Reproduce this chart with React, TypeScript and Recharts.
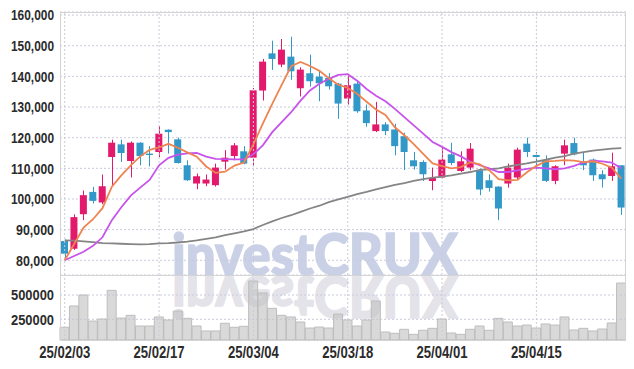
import { ComposedChart, Bar, Line, XAxis, YAxis, CartesianGrid, ReferenceLine } from "recharts"

// trading days 2025-02-03 .. 2025-04-28
const dates = [
  "25/02/03", "25/02/04", "25/02/05", "25/02/06", "25/02/07", "25/02/10", "25/02/11", "25/02/12", "25/02/13", "25/02/14",
  "25/02/17", "25/02/18", "25/02/19", "25/02/20", "25/02/21", "25/02/24", "25/02/25", "25/02/26", "25/02/27", "25/02/28",
  "25/03/04", "25/03/05", "25/03/06", "25/03/07", "25/03/10", "25/03/11", "25/03/12", "25/03/13", "25/03/14", "25/03/17",
  "25/03/18", "25/03/19", "25/03/20", "25/03/21", "25/03/24", "25/03/25", "25/03/26", "25/03/27", "25/03/28", "25/03/31",
  "25/04/01", "25/04/02", "25/04/03", "25/04/04", "25/04/07", "25/04/08", "25/04/09", "25/04/10", "25/04/11", "25/04/14",
  "25/04/15", "25/04/16", "25/04/17", "25/04/18", "25/04/21", "25/04/22", "25/04/23", "25/04/24", "25/04/25", "25/04/28",
]

const opens = [
  86270, 83770, 95030, 102310, 98860, 113690, 117820, 112390, 118370, 114800,
  115320, 122600, 119450, 111000, 105040, 105040, 104490, 112170, 114010, 115550,
  113470, 135380, 147510, 143840, 146440, 136130, 141010, 139930, 139500, 137630,
  132780, 137630, 128880, 122150, 124330, 122670, 120490, 112620, 112060, 105860,
  107000, 114570, 109140, 110240, 109370, 106110, 104040, 105040, 107000, 118050,
  114340, 112620, 105900, 114800, 118240, 112060, 112850, 108070, 107510, 110990,
]
const highs = [
  86800, 94960, 102760, 103940, 107970, 119350, 119350, 118800, 118500, 117240,
  123770, 122700, 120000, 112620, 108290, 107970, 111540, 115940, 118240, 117240,
  136230, 145690, 151640, 152200, 152940, 142960, 147090, 141880, 141010, 137860,
  140040, 138710, 130810, 131680, 125070, 124550, 121600, 115320, 112620, 110220,
  116940, 118340, 115550, 118240, 109920, 108040, 104140, 111540, 116750, 120000,
  115320, 114240, 111000, 119350, 120000, 115320, 113170, 109370, 115100, 110990,
]
const lows = [
  80100, 83400, 93100, 98540, 98310, 104160, 112060, 107000, 110990, 110640,
  113690, 114800, 111540, 105900, 103190, 104160, 104040, 109590, 112620, 111320,
  110750, 132130, 142110, 143000, 138860, 133430, 136680, 131900, 135680, 126150,
  130810, 128110, 123550, 121820, 120820, 114240, 109440, 109590, 105860, 102860,
  106670, 111000, 108810, 109370, 101240, 102420, 93100, 103710, 106340, 113690,
  109140, 105540, 104810, 111000, 114240, 109370, 105900, 103710, 105900, 94800,
]
const closes = [
  82150, 94080, 101240, 99380, 104160, 118370, 114990, 118370, 114010, 114340,
  121300, 121820, 111740, 106110, 107410, 106340, 110240, 113470, 117500, 111540,
  135450, 144810, 145690, 148720, 141660, 142210, 138410, 137750, 136760, 131130,
  137110, 128620, 124750, 124330, 122150, 117240, 115320, 110670, 108070, 106840,
  112850, 111740, 112290, 116420, 103090, 103610, 96890, 110220, 116100, 115320,
  113690, 105900, 110670, 117500, 114570, 110990, 107740, 106440, 110670, 97210,
]

const ma5 = [
  80000, 85300, 90700, 93400, 97000, 104000, 107700, 111000, 113900, 116000,
  116800, 118000, 116700, 115200, 113800, 110600, 108500, 108900, 110900, 111900,
  117800, 124600, 131000, 137200, 143300, 144700, 143400, 141800, 139400, 137300,
  136200, 134300, 131700, 129200, 127400, 123400, 120800, 117900, 114700, 111600,
  110700, 110000, 110400, 112000, 111300, 109400, 106500, 106100, 106200, 108700,
  110800, 112300, 112400, 112700, 112500, 112000, 112300, 111500, 110200, 106600,
]
const ma20 = [
  80000, 81400, 82800, 84700, 87500, 93100, 97300, 101100, 103700, 106200,
  111000, 113400, 114500, 114900, 115000, 113800, 113100, 113000, 112900, 112900,
  114600, 117500, 121800, 125100, 128300, 132100, 135400, 137600, 139200, 140500,
  140700, 138600, 135900, 133700, 131900, 129400, 126700, 124000, 121300, 118600,
  117000, 115300, 113900, 112100, 111000, 110000, 108800, 108800, 109300, 109800,
  110200, 110000, 109700, 110000, 110800, 111900, 112500, 112300, 111900, 110000,
]
const ma60 = [
  86500, 86400, 86200, 85900, 85600, 85500, 85400, 85300, 85200, 85300,
  85500, 85600, 85800, 86100, 86500, 87000, 87500, 88200, 88800, 89400,
  90200, 91500, 92700, 93800, 94700, 95800, 96900, 97800, 99000, 99900,
  100700, 101600, 102300, 103100, 103900, 104600, 105200, 105900, 106500, 107000,
  107300, 107700, 108300, 108800, 109500, 109700, 110000, 110600, 111100, 111600,
  112200, 112800, 113500, 114000, 114800, 115300, 115800, 116100, 116400, 116600,
]

const volumes = [
  168000, 387000, 500000, 232000, 253000, 548000, 263000, 291000, 181000, 181000,
  274000, 243000, 335000, 260000, 181000, 130000, 130000, 209000, 168000, 178000,
  644000, 521000, 363000, 291000, 274000, 222000, 160000, 170000, 160000, 304000,
  243000, 181000, 243000, 438000, 119000, 106000, 147000, 95000, 137000, 157000,
  253000, 109000, 95000, 147000, 181000, 137000, 260000, 222000, 181000, 191000,
  160000, 202000, 191000, 274000, 140000, 157000, 130000, 150000, 212000, 623000,
]

const tickDates = ["25/02/03", "25/02/17", "25/03/04", "25/03/18", "25/04/01", "25/04/15"]
const priceTicks = [80000, 90000, 100000, 110000, 120000, 130000, 140000, 150000, 160000]
const volumeTicks = [250000, 500000]

const UP = "#E3196B"
const DOWN = "#3298C8"
const GRID = "#C8CBDC"
const BORDER = "#D4D4D4"
const FONT = "'Liberation Sans', Arial, sans-serif"

const rows = dates.map((date, i) => ({
  date,
  open: opens[i],
  high: highs[i],
  low: lows[i],
  close: closes[i],
  ma5: ma5[i],
  ma20: ma20[i],
  ma60: ma60[i],
  volume: volumes[i],
}))

const Candle = (props: any) => {
  const { x, y, width, height, payload } = props
  const { open, close, high, low } = payload
  const top = Math.min(y, y + height)
  const h = Math.abs(height)
  const k = h / (high - low)
  const yOf = (v: number) => top + (high - v) * k
  const color = close >= open ? UP : DOWN
  const bodyTop = yOf(Math.max(open, close))
  const bodyH = Math.max(1, yOf(Math.min(open, close)) - bodyTop)
  const cx = Math.round(x + width / 2) + 0.5
  return (
    <g>
      <line x1={cx} x2={cx} y1={top} y2={top + h} stroke={color} strokeWidth={1} />
      <rect x={x} y={bodyTop} width={width} height={bodyH} fill={color} />
    </g>
  )
}

// the original uses a condensed face; squeeze the text to its width
const YTick = (props: any) => {
  const { x, y, payload, fmt } = props
  const label = fmt ? fmt(payload.value) : String(payload.value)
  const len = label.length >= 7 || !fmt ? 43 : 38
  return (
    <text x={x} y={y} dy="0.36em" textAnchor="end" textLength={len} lengthAdjust="spacingAndGlyphs"
      fontFamily={FONT} fontWeight="bold" fontSize={15} fill="#2b2b2b">{label}</text>
  )
}

const XTick = (props: any) => {
  const { x, y, payload } = props
  return (
    <text x={x - 25.5} y={y} dy="0.72em" textLength={51} lengthAdjust="spacingAndGlyphs"
      fontFamily={FONT} fontWeight="bold" fontSize={16} fill="#2b2b2b">{payload.value}</text>
  )
}

const fmtPrice = (v: number) => v.toLocaleString("en-US")

export default function App() {
  return (
    <div style={{ position: "absolute", left: 0, top: 0, width: 634, height: 369, background: "#fff" }}>
      {/* watermark + reflection, sits behind the charts */}
      <svg width={634} height={369} style={{ position: "absolute", left: 0, top: 0 }}>
        <text x={172} y={275} textLength={286} lengthAdjust="spacingAndGlyphs"
          fontFamily="Lato, sans-serif" fontWeight={900} fontSize={58} fill="#CAD1E6"
          stroke="#CAD1E6" strokeWidth={1.5}>investCRUX</text>
        <text x={172} y={275} textLength={286} lengthAdjust="spacingAndGlyphs"
          transform="translate(0,551) scale(1,-1)"
          fontFamily="Lato, sans-serif" fontWeight={900} fontSize={58} fill="#E3E3E9"
          stroke="#E3E3E9" strokeWidth={1.5}>investCRUX</text>
      </svg>

      <div style={{ position: "absolute", left: 0, top: 0 }}>
        <ComposedChart width={634} height={276} data={rows} barSize={7}
          margin={{ top: 12, right: 8, bottom: 1, left: 0 }}>
          <CartesianGrid vertical={false} stroke={GRID} strokeDasharray="2 2" />
          <XAxis dataKey="date" hide />
          <YAxis domain={[75200, 161000]} ticks={priceTicks} width={60} axisLine={false}
            tickLine={false} tickSize={0} tickMargin={6} tick={<YTick fmt={fmtPrice} />} />
          {tickDates.map((d) => (
            <ReferenceLine key={d} x={d} stroke={GRID} strokeDasharray="2 2" />
          ))}
          <Bar dataKey={(r: any) => [r.low, r.high]} shape={Candle} isAnimationActive={false} />
          <Line dataKey="ma60" stroke="#858585" strokeWidth={1.8} dot={false} isAnimationActive={false} />
          <Line dataKey="ma20" stroke="#C853EA" strokeWidth={1.8} dot={false} isAnimationActive={false} />
          <Line dataKey="ma5" stroke="#EF8450" strokeWidth={1.8} dot={false} isAnimationActive={false} />
        </ComposedChart>
      </div>

      <div style={{ position: "absolute", left: 0, top: 275 }}>
        <ComposedChart width={634} height={94} data={rows} barCategoryGap={0}
          margin={{ top: 0, right: 8, bottom: 0, left: 0 }}>
          <CartesianGrid vertical={false} stroke={GRID} strokeDasharray="2 2" />
          <XAxis dataKey="date" ticks={tickDates} interval={0} height={29} axisLine={false}
            tickLine={false} tickSize={0} tickMargin={6} tick={<XTick />} />
          <YAxis domain={[37000, 705800]} ticks={volumeTicks} width={60} axisLine={false}
            tickLine={false} tickSize={0} tickMargin={6} tick={<YTick />} />
          {tickDates.map((d) => (
            <ReferenceLine key={d} x={d} stroke={GRID} strokeDasharray="2 2" />
          ))}
          <Bar dataKey="volume" fill="#C4C4C4" fillOpacity={0.65} stroke="#BDBDBD" strokeWidth={1}
            isAnimationActive={false} />
        </ComposedChart>
      </div>

      {/* panel frame */}
      <div style={{ position: "absolute", left: 60, top: 12, width: 566, height: 329,
        border: `1px solid ${BORDER}`, boxSizing: "border-box", pointerEvents: "none" }} />
      <div style={{ position: "absolute", left: 60, top: 275, width: 566, height: 1,
        background: BORDER, pointerEvents: "none" }} />
    </div>
  )
}
